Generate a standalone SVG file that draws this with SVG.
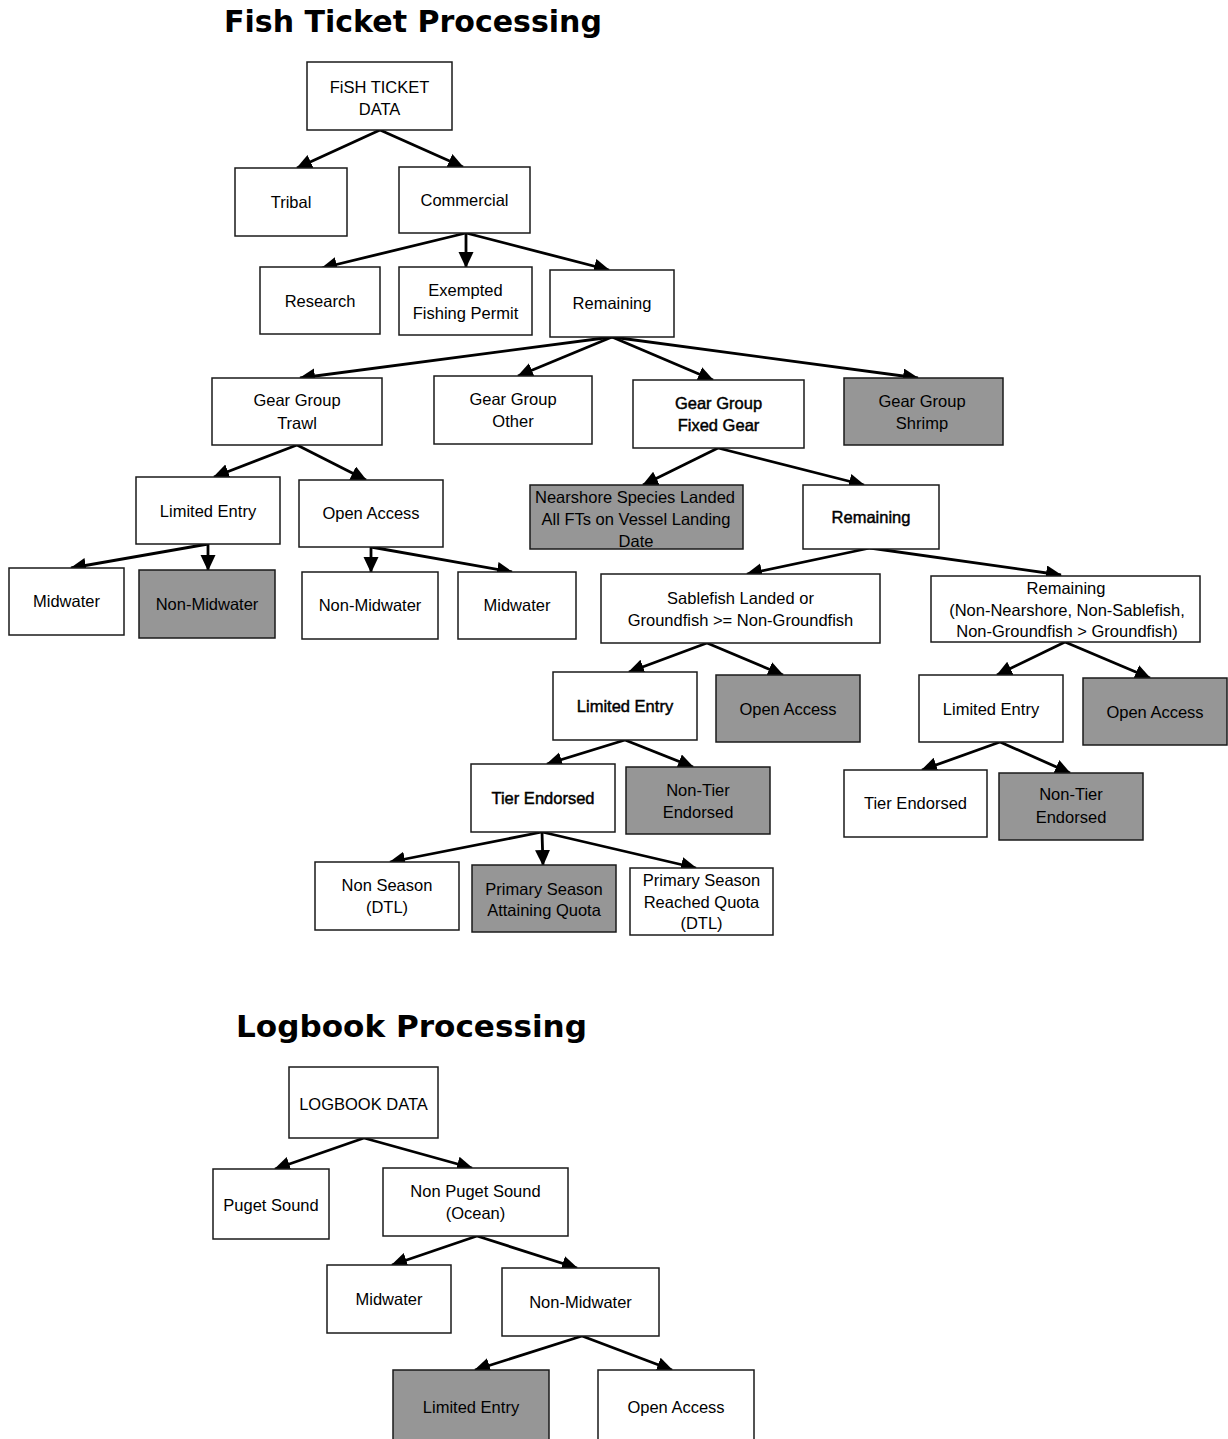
<svg xmlns="http://www.w3.org/2000/svg" width="1228" height="1439" viewBox="0 0 1228 1439">
<style>
.box{fill:#fff;stroke:#1a1a1a;stroke-width:1.5}
.grey{fill:#969696}
text{font-family:"Liberation Sans",Arial,sans-serif;font-size:16.5px;fill:#000;text-anchor:middle}
.b{stroke:#000;stroke-width:0.45}
.title{font-family:"DejaVu Sans",Verdana,sans-serif;font-weight:bold;font-size:31px;text-anchor:start}
.c line{stroke:#000;stroke-width:2.8;marker-end:url(#ah)}
</style>
<defs>
<marker id="ah" markerUnits="userSpaceOnUse" markerWidth="18" markerHeight="16" refX="15" refY="7.5" orient="auto">
<path d="M0,0 L16,7.5 L0,15 z" fill="#000"/>
</marker>
</defs>
<rect width="1228" height="1439" fill="#fff"/>
<text class="title" x="224" y="32" textLength="378" lengthAdjust="spacingAndGlyphs">Fish Ticket Processing</text>
<text class="title" x="236" y="1037" textLength="351" lengthAdjust="spacingAndGlyphs">Logbook Processing</text>

<g class="c">
<line x1="380" y1="130" x2="297" y2="168"/>
<line x1="380" y1="130" x2="463" y2="167"/>
<line x1="466" y1="233" x2="322" y2="268"/>
<line x1="466" y1="233" x2="466" y2="267"/>
<line x1="466" y1="233" x2="609" y2="270"/>
<line x1="612" y1="337" x2="300" y2="378"/>
<line x1="612" y1="337" x2="518" y2="376"/>
<line x1="612" y1="337" x2="713" y2="380"/>
<line x1="612" y1="337" x2="918" y2="378"/>
<line x1="297" y1="445" x2="214" y2="477"/>
<line x1="297" y1="445" x2="366" y2="480"/>
<line x1="208" y1="544" x2="71" y2="568"/>
<line x1="208" y1="544" x2="208" y2="570"/>
<line x1="371" y1="547" x2="371" y2="572"/>
<line x1="371" y1="547" x2="512" y2="572"/>
<line x1="718" y1="448" x2="643" y2="485"/>
<line x1="718" y1="448" x2="864" y2="485"/>
<line x1="870" y1="548" x2="747" y2="574"/>
<line x1="870" y1="548" x2="1061" y2="575"/>
<line x1="707" y1="643" x2="629" y2="672"/>
<line x1="707" y1="643" x2="783" y2="675"/>
<line x1="1065" y1="642" x2="997" y2="675"/>
<line x1="1065" y1="642" x2="1150" y2="678"/>
<line x1="625" y1="740" x2="547" y2="764"/>
<line x1="625" y1="740" x2="693" y2="767"/>
<line x1="542" y1="832" x2="390" y2="862"/>
<line x1="542" y1="832" x2="543" y2="865"/>
<line x1="542" y1="832" x2="696" y2="868"/>
<line x1="1000" y1="742" x2="922" y2="770"/>
<line x1="1000" y1="742" x2="1070" y2="773"/>
<line x1="364" y1="1138" x2="275" y2="1169"/>
<line x1="364" y1="1138" x2="472" y2="1168"/>
<line x1="477" y1="1236" x2="392" y2="1265"/>
<line x1="477" y1="1236" x2="577" y2="1268"/>
<line x1="582" y1="1336" x2="475" y2="1370"/>
<line x1="582" y1="1336" x2="672" y2="1370"/>
</g>

<g id="fish-ticket-data"><rect class="box" x="307" y="62" width="145" height="68"/><text x="379.5" y="93">FiSH TICKET</text><text x="379.5" y="115">DATA</text></g>
<g id="tribal"><rect class="box" x="235" y="168" width="112" height="68"/><text x="291" y="208">Tribal</text></g>
<g id="commercial"><rect class="box" x="399" y="167" width="131" height="66"/><text x="464.5" y="206">Commercial</text></g>
<g id="research"><rect class="box" x="260" y="267" width="120" height="67"/><text x="320" y="307">Research</text></g>
<g id="efp"><rect class="box" x="399" y="267" width="133" height="68"/><text x="465.5" y="296">Exempted</text><text x="465.5" y="319">Fishing Permit</text></g>
<g id="remaining1"><rect class="box" x="550" y="270" width="124" height="67"/><text x="612" y="309">Remaining</text></g>
<g id="gg-trawl"><rect class="box" x="212" y="378" width="170" height="67"/><text x="297" y="406">Gear Group</text><text x="297" y="429">Trawl</text></g>
<g id="gg-other"><rect class="box" x="434" y="376" width="158" height="68"/><text x="513" y="405">Gear Group</text><text x="513" y="427">Other</text></g>
<g id="gg-fixed"><rect class="box" x="633" y="380" width="171" height="68"/><text class="b" x="718.5" y="409">Gear Group</text><text class="b" x="718.5" y="431">Fixed Gear</text></g>
<g id="gg-shrimp"><rect class="box grey" x="844" y="378" width="159" height="67"/><text x="922" y="407">Gear Group</text><text x="922" y="429">Shrimp</text></g>
<g id="trawl-le"><rect class="box" x="136" y="477" width="144" height="67"/><text x="208" y="517">Limited Entry</text></g>
<g id="trawl-oa"><rect class="box" x="299" y="480" width="144" height="67"/><text x="371" y="519">Open Access</text></g>
<g id="trawl-le-mid"><rect class="box" x="9" y="568" width="115" height="67"/><text x="66.5" y="607">Midwater</text></g>
<g id="trawl-le-nonmid"><rect class="box grey" x="139" y="570" width="136" height="68"/><text x="207" y="610">Non-Midwater</text></g>
<g id="trawl-oa-nonmid"><rect class="box" x="302" y="572" width="136" height="67"/><text x="370" y="611">Non-Midwater</text></g>
<g id="trawl-oa-mid"><rect class="box" x="458" y="572" width="118" height="67"/><text x="517" y="611">Midwater</text></g>
<g id="nearshore"><rect class="box grey" x="530" y="485" width="213" height="64"/><text x="635" y="503">Nearshore Species Landed</text><text x="636" y="525">All FTs on Vessel Landing</text><text x="636" y="547">Date</text></g>
<g id="remaining2"><rect class="box" x="803" y="485" width="136" height="64"/><text class="b" x="871" y="523">Remaining</text></g>
<g id="sablefish"><rect class="box" x="601" y="574" width="279" height="69"/><text x="740.5" y="604">Sablefish Landed or</text><text x="740.5" y="626">Groundfish &gt;= Non-Groundfish</text></g>
<g id="remaining3"><rect class="box" x="931" y="576" width="269" height="66"/><text x="1066" y="594">Remaining</text><text x="1067" y="616">(Non-Nearshore, Non-Sablefish,</text><text x="1067" y="637">Non-Groundfish &gt; Groundfish)</text></g>
<g id="fixed-le"><rect class="box" x="553" y="672" width="144" height="68"/><text class="b" x="625" y="712">Limited Entry</text></g>
<g id="fixed-oa"><rect class="box grey" x="716" y="675" width="144" height="67"/><text x="788" y="715">Open Access</text></g>
<g id="rem-le"><rect class="box" x="919" y="675" width="144" height="67"/><text x="991" y="715">Limited Entry</text></g>
<g id="rem-oa"><rect class="box grey" x="1083" y="678" width="144" height="67"/><text x="1155" y="718">Open Access</text></g>
<g id="fixed-tier"><rect class="box" x="471" y="764" width="144" height="68"/><text class="b" x="543" y="804">Tier Endorsed</text></g>
<g id="fixed-nontier"><rect class="box grey" x="626" y="767" width="144" height="67"/><text x="698" y="796">Non-Tier</text><text x="698" y="818">Endorsed</text></g>
<g id="rem-tier"><rect class="box" x="844" y="770" width="143" height="67"/><text x="915.5" y="809">Tier Endorsed</text></g>
<g id="rem-nontier"><rect class="box grey" x="999" y="773" width="144" height="67"/><text x="1071" y="800">Non-Tier</text><text x="1071" y="823">Endorsed</text></g>
<g id="non-season"><rect class="box" x="315" y="862" width="144" height="68"/><text x="387" y="891">Non Season</text><text x="387" y="913">(DTL)</text></g>
<g id="primary-attaining"><rect class="box grey" x="472" y="865" width="144" height="67"/><text x="544" y="895">Primary Season</text><text x="544" y="916">Attaining Quota</text></g>
<g id="primary-reached"><rect class="box" x="630" y="868" width="143" height="67"/><text x="701.5" y="886">Primary Season</text><text x="701.5" y="908">Reached Quota</text><text x="701.5" y="929">(DTL)</text></g>

<g id="logbook-data"><rect class="box" x="289" y="1067" width="149" height="71"/><text x="363.5" y="1110">LOGBOOK DATA</text></g>
<g id="puget"><rect class="box" x="213" y="1169" width="116" height="70"/><text x="271" y="1211">Puget Sound</text></g>
<g id="non-puget"><rect class="box" x="383" y="1168" width="185" height="68"/><text x="475.5" y="1197">Non Puget Sound</text><text x="475.5" y="1219">(Ocean)</text></g>
<g id="lb-mid"><rect class="box" x="327" y="1265" width="124" height="68"/><text x="389" y="1305">Midwater</text></g>
<g id="lb-nonmid"><rect class="box" x="502" y="1268" width="157" height="68"/><text x="580.5" y="1308">Non-Midwater</text></g>
<g id="lb-le"><rect class="box grey" x="393" y="1370" width="156" height="72"/><text x="471" y="1413">Limited Entry</text></g>
<g id="lb-oa"><rect class="box" x="598" y="1370" width="156" height="72"/><text x="676" y="1413">Open Access</text></g>
</svg>
